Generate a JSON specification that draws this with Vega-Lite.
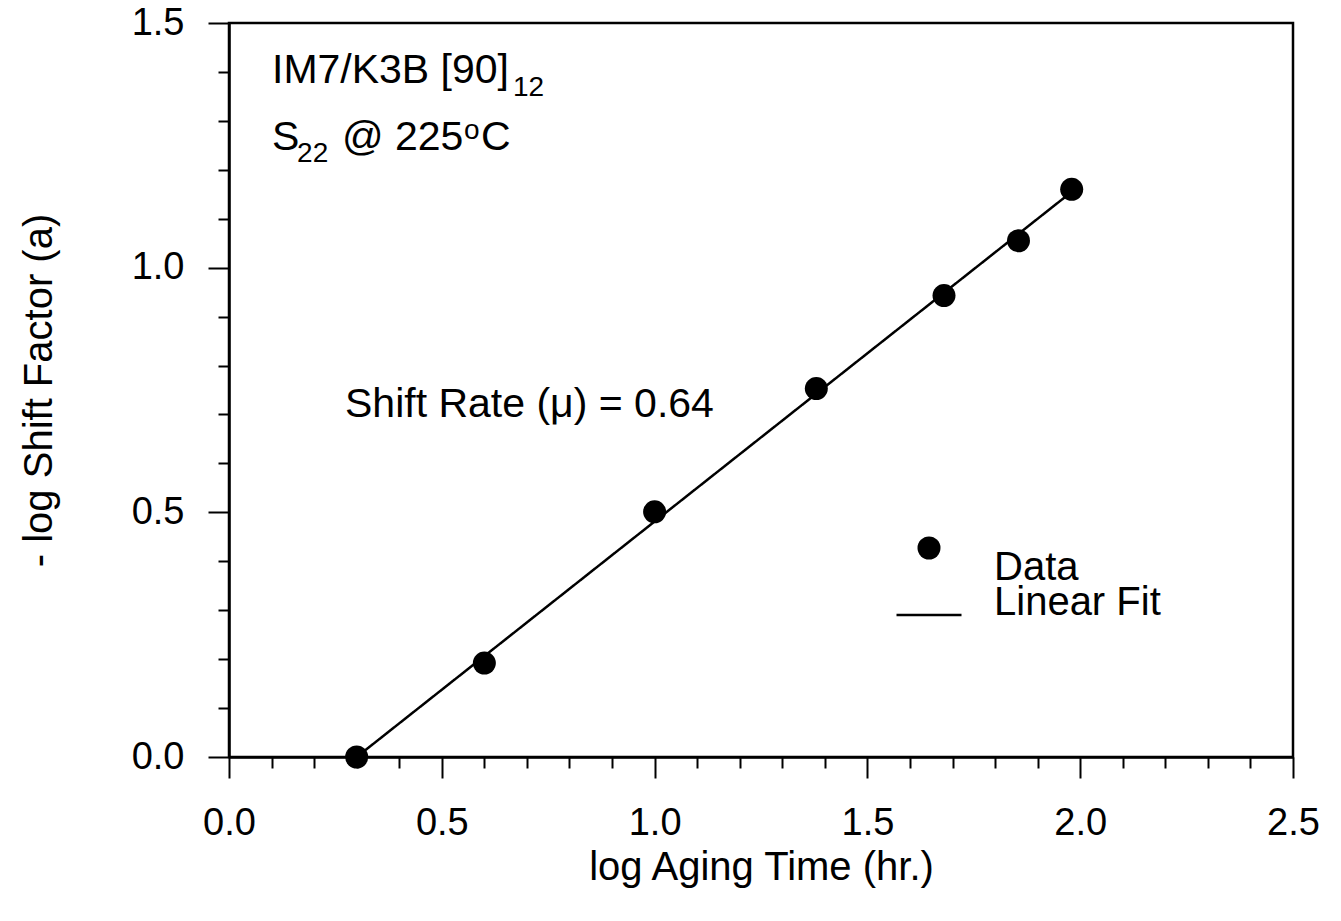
{
  "$schema": "https://vega.github.io/schema/vega-lite/v6.json",
  "width": 1064,
  "height": 734,
  "autosize": {"type": "none"},
  "padding": {"left": 229, "top": 23, "right": 48, "bottom": 164},
  "background": "white",
  "config": {
    "font": "Liberation Sans",
    "view": {"stroke": "black", "strokeWidth": 2.5},
    "axis": {
      "domainColor": "black", "domainWidth": 2.5, "tickColor": "black", "tickWidth": 2,
      "labelColor": "black", "titleColor": "black", "grid": false,
      "labelFont": "Liberation Sans", "titleFont": "Liberation Sans",
      "labelFontSize": 38, "titleFontSize": 40, "titleFontWeight": "normal"
    },
    "legend": {"labelFont": "Liberation Sans", "labelColor": "black", "labelFontSize": 40, "labelLimit": 400}
  },
  "datasets": {
    "points": [
      {"x": 0.30, "y": 0.00, "series": "Data"},
      {"x": 0.60, "y": 0.192, "series": "Data"},
      {"x": 1.00, "y": 0.501, "series": "Data"},
      {"x": 1.38, "y": 0.753, "series": "Data"},
      {"x": 1.68, "y": 0.943, "series": "Data"},
      {"x": 1.855, "y": 1.055, "series": "Data"},
      {"x": 1.98, "y": 1.160, "series": "Data"}
    ],
    "fit": [
      {"x": 0.30, "y": 0.0, "series": "Linear Fit"},
      {"x": 1.98, "y": 1.155, "series": "Linear Fit"}
    ]
  },
  "layer": [
    {
      "data": {"name": "fit"},
      "mark": {"type": "line", "color": "black", "strokeWidth": 2.5},
      "encoding": {
        "x": {"field": "x", "type": "quantitative",
          "scale": {"domain": [0, 2.5], "nice": false, "zero": false},
          "axis": {"orient": "bottom", "values": [0, 0.5, 1, 1.5, 2, 2.5], "tickSize": 21, "labelPadding": 26, "format": ".1f",
            "title": "log Aging Time (hr.)", "titlePadding": 5, "labelFlush": false, "labelOverlap": false}},
        "y": {"field": "y", "type": "quantitative",
          "scale": {"domain": [0, 1.5], "nice": false, "zero": false},
          "axis": {"orient": "left", "values": [0, 0.5, 1, 1.5], "tickSize": 21, "labelPadding": 24, "format": ".1f",
            "title": "- log Shift Factor (a)", "titlePadding": 72, "labelFlush": false, "labelOverlap": false}},
        "strokeDash": {"field": "series", "type": "nominal", "scale": {"range": [[1, 0]]},
          "legend": {"title": null, "orient": "none", "legendX": 666, "legendY": 558, "padding": 0,
            "symbolType": "stroke", "symbolSize": 4225, "symbolStrokeWidth": 2.5, "symbolStrokeColor": "black",
            "labelOffset": 31, "labelBaseline": "alphabetic", "labelFontSize": 40, "labelLimit": 400}}
      }
    },
    {
      "data": {"name": "points"},
      "mark": {"type": "point", "filled": true, "color": "black", "size": 529, "opacity": 1},
      "encoding": {
        "x": {"field": "x", "type": "quantitative",
          "axis": {"orient": "bottom", "values": [0.1, 0.2, 0.3, 0.4, 0.6, 0.7, 0.8, 0.9, 1.1, 1.2, 1.3, 1.4, 1.6, 1.7, 1.8, 1.9, 2.1, 2.2, 2.3, 2.4],
            "tickSize": 11, "labels": false, "domain": false, "title": null}},
        "y": {"field": "y", "type": "quantitative",
          "axis": {"orient": "left", "values": [0.1, 0.2, 0.3, 0.4, 0.6, 0.7, 0.8, 0.9, 1.1, 1.2, 1.3, 1.4],
            "tickSize": 11, "labels": false, "domain": false, "title": null}},
        "shape": {"field": "series", "type": "nominal", "scale": {"range": ["circle"]},
          "legend": {"title": null, "orient": "none", "legendX": 680, "legendY": 505, "padding": 0,
            "symbolSize": 529, "symbolFillColor": "black", "symbolStrokeColor": "black", "symbolStrokeWidth": 0, "symbolOpacity": 1,
            "labelOffset": 45, "labelBaseline": "top", "labelFontSize": 40, "labelLimit": 400}}
      }
    },
    {
      "data": {"values": [{}]},
      "mark": {"type": "text", "align": "left", "baseline": "alphabetic", "fontSize": 41, "color": "black"},
      "encoding": {
        "x": {"datum": 0.101, "type": "quantitative", "axis": null},
        "y": {"datum": 1.378, "type": "quantitative", "axis": null},
        "text": {"value": "IM7/K3B [90]"}
      }
    },
    {
      "data": {"values": [{}]},
      "mark": {"type": "text", "align": "left", "baseline": "alphabetic", "fontSize": 28, "color": "black"},
      "encoding": {
        "x": {"datum": 0.667, "type": "quantitative", "axis": null},
        "y": {"datum": 1.350, "type": "quantitative", "axis": null},
        "text": {"value": "12"}
      }
    },
    {
      "data": {"values": [{}]},
      "mark": {"type": "text", "align": "left", "baseline": "alphabetic", "fontSize": 41, "color": "black"},
      "encoding": {
        "x": {"datum": 0.101, "type": "quantitative", "axis": null},
        "y": {"datum": 1.241, "type": "quantitative", "axis": null},
        "text": {"value": "S"}
      }
    },
    {
      "data": {"values": [{}]},
      "mark": {"type": "text", "align": "left", "baseline": "alphabetic", "fontSize": 28, "color": "black"},
      "encoding": {
        "x": {"datum": 0.160, "type": "quantitative", "axis": null},
        "y": {"datum": 1.215, "type": "quantitative", "axis": null},
        "text": {"value": "22"}
      }
    },
    {
      "data": {"values": [{}]},
      "mark": {"type": "text", "align": "left", "baseline": "alphabetic", "fontSize": 41, "color": "black"},
      "encoding": {
        "x": {"datum": 0.2655, "type": "quantitative", "axis": null},
        "y": {"datum": 1.241, "type": "quantitative", "axis": null},
        "text": {"value": "@ 225"}
      }
    },
    {
      "data": {"values": [{}]},
      "mark": {"type": "text", "align": "left", "baseline": "alphabetic", "fontSize": 28, "color": "black"},
      "encoding": {
        "x": {"datum": 0.552, "type": "quantitative", "axis": null},
        "y": {"datum": 1.262, "type": "quantitative", "axis": null},
        "text": {"value": "o"}
      }
    },
    {
      "data": {"values": [{}]},
      "mark": {"type": "text", "align": "left", "baseline": "alphabetic", "fontSize": 41, "color": "black"},
      "encoding": {
        "x": {"datum": 0.592, "type": "quantitative", "axis": null},
        "y": {"datum": 1.241, "type": "quantitative", "axis": null},
        "text": {"value": "C"}
      }
    },
    {
      "data": {"values": [{}]},
      "mark": {"type": "text", "align": "left", "baseline": "alphabetic", "fontSize": 41, "color": "black"},
      "encoding": {
        "x": {"datum": 0.2726, "type": "quantitative", "axis": null},
        "y": {"datum": 0.695, "type": "quantitative", "axis": null},
        "text": {"value": "Shift Rate (μ) = 0.64"}
      }
    }
  ],
  "resolve": {"axis": {"x": "independent", "y": "independent"}}
}
